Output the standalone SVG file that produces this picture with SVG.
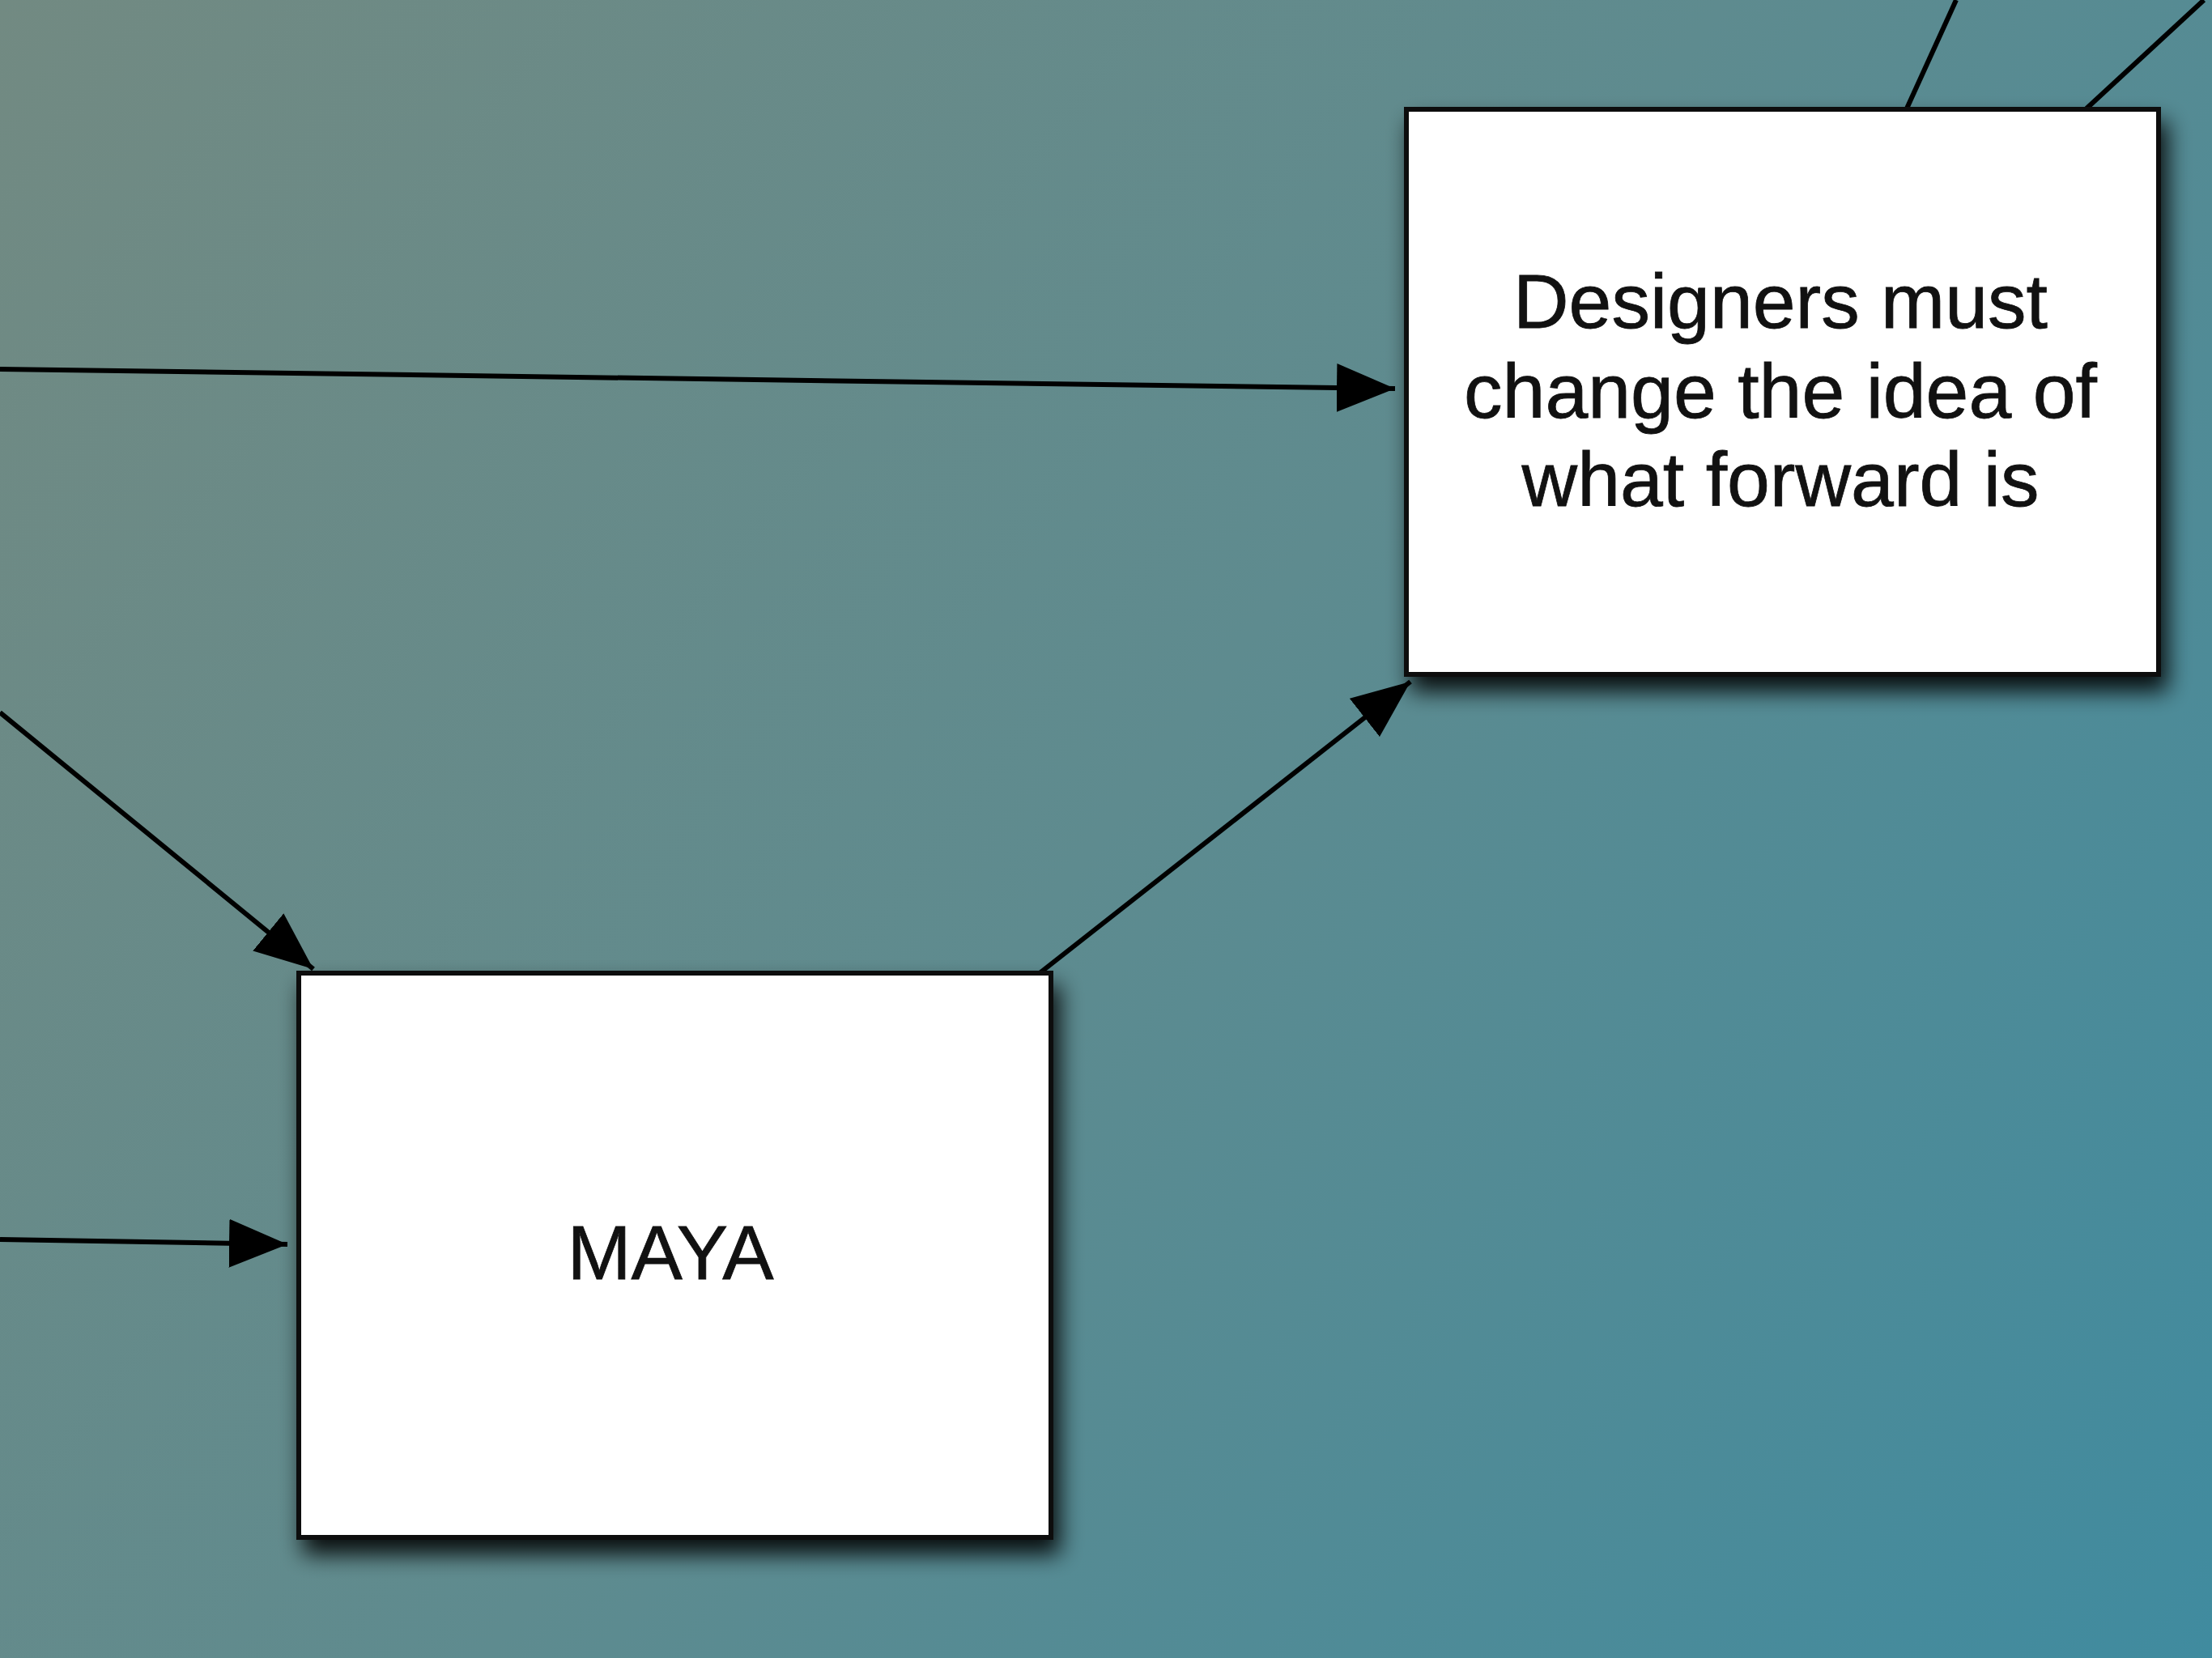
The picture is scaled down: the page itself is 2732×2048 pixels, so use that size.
<svg xmlns="http://www.w3.org/2000/svg" width="2732" height="2048" viewBox="0 0 2732 2048">
  <defs>
    <linearGradient id="bg" x1="0" y1="0" x2="2732" y2="2048" gradientUnits="userSpaceOnUse">
      <stop offset="0" stop-color="#728a82"/>
      <stop offset="0.5" stop-color="#5e8b8f"/>
      <stop offset="1" stop-color="#408b9f"/>
    </linearGradient>
    <filter id="shadow" x="-10%" y="-10%" width="125%" height="130%">
      <feGaussianBlur in="SourceAlpha" stdDeviation="14"/>
      <feOffset dx="8" dy="18" result="b"/>
      <feComponentTransfer><feFuncA type="linear" slope="0.9"/></feComponentTransfer>
      <feMerge><feMergeNode/><feMergeNode in="SourceGraphic"/></feMerge>
    </filter>
    <marker id="arrow" viewBox="0 0 72 60" refX="72" refY="30" markerWidth="72" markerHeight="60" markerUnits="userSpaceOnUse" orient="auto">
      <path d="M0,0 L72,30 L0,60 z" fill="#000"/>
    </marker>
  </defs>
  <style>
    .box { fill: #ffffff; stroke: #111111; stroke-width: 6; }
    .lbl { font-family: "Liberation Sans", Arial, sans-serif; font-size: 95px; fill: #111111; text-anchor: middle; stroke: #111111; stroke-width: 0.8; }
    .conn { stroke: #000; stroke-width: 6; fill: none; }
  </style>
  <rect x="0" y="0" width="2732" height="2048" fill="url(#bg)"/>
  <g id="connectors">
    <line class="conn" x1="0" y1="456" x2="1723" y2="480" marker-end="url(#arrow)"/>
    <line class="conn" x1="0" y1="880" x2="387" y2="1197" marker-end="url(#arrow)"/>
    <line class="conn" x1="0" y1="1531" x2="355" y2="1537" marker-end="url(#arrow)"/>
    <line class="conn" x1="1284" y1="1202" x2="1742" y2="842" marker-end="url(#arrow)"/>
    <line class="conn" x1="2355" y1="134" x2="2416" y2="0"/>
    <line class="conn" x1="2577" y1="134" x2="2722" y2="0"/>
  </g>
  <g id="node-designers">
    <rect class="box" x="1737" y="135" width="929" height="698" filter="url(#shadow)"/>
    <text class="lbl" x="2199" y="405">Designers must</text>
    <text class="lbl" x="2199" y="516">change the idea of</text>
    <text class="lbl" x="2199" y="625">what forward is</text>
  </g>
  <g id="node-maya">
    <rect class="box" x="369" y="1202" width="929" height="697" filter="url(#shadow)"/>
    <text class="lbl" x="828" y="1580">MAYA</text>
  </g>
</svg>
